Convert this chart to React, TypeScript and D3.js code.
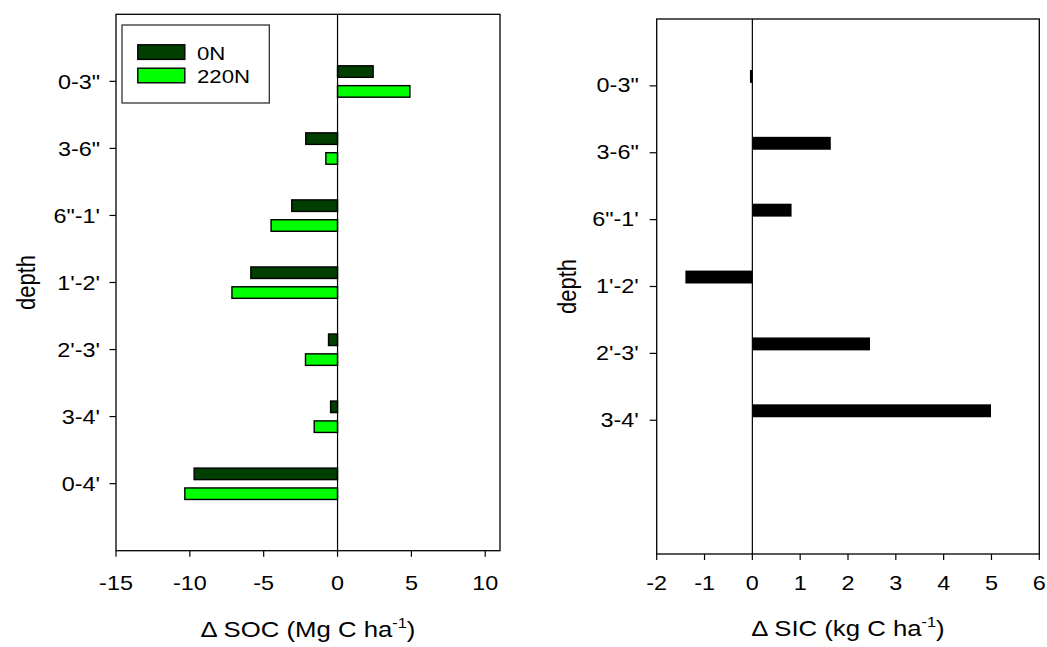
import React from "react";
import * as d3 from "d3";

const depthsSOC = ['0-3"', '3-6"', "6\"-1'", "1'-2'", "2'-3'", "3-4'", "0-4'"];
const soc0N = [2.41, -2.15, -3.1, -5.87, -0.61, -0.47, -9.71];
const soc220N = [4.9, -0.79, -4.5, -7.15, -2.17, -1.58, -10.34];
const socTicks = [-15, -10, -5, 0, 5, 10];

const depthsSIC = ['0-3"', '3-6"', "6\"-1'", "1'-2'", "2'-3'", "3-4'"];
const sicValues = [-0.05, 1.64, 0.82, -1.4, 2.46, 4.99];
const sicTicks = [-2, -1, 0, 1, 2, 3, 4, 5, 6];

const legendLabels = ["0N", "220N"];
const colors = ["#003F00", "#00FF00"];

const FONT = "'Liberation Sans', Arial, Helvetica, sans-serif";
const SX = 1.17;

function SText(props: {
  x: number;
  y: number;
  size: number;
  anchor?: string;
  rotate?: number;
  children: React.ReactNode;
}) {
  const { x, y, size, anchor = "start", rotate = 0, children } = props;
  return (
    <text
      transform={`translate(${x},${y}) scale(${SX},1)${rotate ? ` rotate(${rotate})` : ""}`}
      fontSize={size}
      fontFamily={FONT}
      textAnchor={anchor}
      fill="#000"
    >
      {children}
    </text>
  );
}

function Title(props: { x: number; y: number; name: string; unit: string }) {
  const { x, y, name, unit } = props;
  return (
    <SText x={x} y={y} size={22} anchor="middle">
      {`Δ ${name} (${unit} ha`}
      <tspan fontSize={14} dy={-9}>-1</tspan>
      <tspan dy={9}>)</tspan>
    </SText>
  );
}

export default function App() {
  // Left panel
  const L = { x0: 116, x1: 500, y0: 14.3, y1: 550.7 };
  const xL = d3.scaleLinear().domain([-15, 11]).range([L.x0, L.x1]);
  const yL = d3.scaleLinear().domain([0, 8]).range([L.y0, L.y1]);

  // Right panel
  const R = { x0: 656.7, x1: 1039.3, y0: 19, y1: 554 };
  const xR = d3.scaleLinear().domain([-2, 6]).range([R.x0, R.x1]);
  const yR = d3.scaleLinear().domain([0, 8]).range([R.y0, R.y1]);

  const bh = 0.172; // bar height in category units (left)
  const off0 = -0.232;
  const off1 = 0.064;

  return (
    <svg
      width={1047}
      height={647}
      style={{ position: "absolute", left: 0, top: 0, background: "#fff" }}
    >
      <rect x={0} y={0} width={1047} height={647} fill="#fff" />

      {/* ===== Left panel ===== */}
      <g>
        {/* bars */}
        {depthsSOC.map((d, i) => {
          const c = yL(i + 1);
          const v0 = soc0N[i];
          const v1 = soc220N[i];
          const h = yL(bh) - yL(0);
          return (
            <g key={d}>
              <rect
                x={Math.min(xL(0), xL(v0))}
                y={yL(i + 1 + off0)}
                width={Math.abs(xL(v0) - xL(0))}
                height={h}
                fill={colors[0]}
                stroke="#000"
                strokeWidth={1.4}
              />
              <rect
                x={Math.min(xL(0), xL(v1))}
                y={yL(i + 1 + off1)}
                width={Math.abs(xL(v1) - xL(0))}
                height={h}
                fill={colors[1]}
                stroke="#000"
                strokeWidth={1.4}
              />
              {/* y tick */}
              <line x1={L.x0 - 6.5} x2={L.x0} y1={c} y2={c} stroke="#000" strokeWidth={1.2} />
              <SText x={L.x0 - 16} y={c + 7.5} size={20} anchor="end">
                {d}
              </SText>
            </g>
          );
        })}
        {/* zero line */}
        <line x1={xL(0)} x2={xL(0)} y1={L.y0} y2={L.y1} stroke="#000" strokeWidth={1.2} />
        {/* frame */}
        <rect
          x={L.x0}
          y={L.y0}
          width={L.x1 - L.x0}
          height={L.y1 - L.y0}
          fill="none"
          stroke="#000"
          strokeWidth={1.3}
        />
        {/* x ticks */}
        {socTicks.map((t) => (
          <g key={t}>
            <line x1={xL(t)} x2={xL(t)} y1={L.y1} y2={L.y1 + 6} stroke="#000" strokeWidth={1.2} />
            <SText x={xL(t)} y={589.5} size={20} anchor="middle">
              {String(t)}
            </SText>
          </g>
        ))}
        {/* legend */}
        <rect x={122} y={25} width={147.3} height={78} fill="#fff" stroke="#222" strokeWidth={1.2} />
        {legendLabels.map((lab, i) => (
          <g key={lab}>
            <rect
              x={137.8}
              y={i === 0 ? 44.8 : 68.2}
              width={47}
              height={14.6}
              fill={colors[i]}
              stroke="#000"
              strokeWidth={1.4}
            />
            <SText x={197} y={i === 0 ? 59.5 : 83} size={19}>
              {lab}
            </SText>
          </g>
        ))}
        {/* axis titles */}
        <Title x={(L.x0 + L.x1) / 2} y={637} name="SOC" unit="Mg C" />
        <SText x={L.x0 - 81} y={(L.y0 + L.y1) / 2} size={22} anchor="middle" rotate={-90}>
          depth
        </SText>
      </g>

      {/* ===== Right panel ===== */}
      <g>
        {depthsSIC.map((d, i) => {
          const c = yR(i + 1);
          const v = sicValues[i];
          return (
            <g key={d}>
              <rect
                x={Math.min(xR(0), xR(v))}
                y={yR(i + 1 - 0.238)}
                width={Math.abs(xR(v) - xR(0))}
                height={yR(0.193) - yR(0)}
                fill="#000"
              />
              <line x1={R.x0 - 7} x2={R.x0} y1={c} y2={c} stroke="#000" strokeWidth={1.2} />
              <SText x={R.x0 - 18} y={c + 6.5} size={20} anchor="end">
                {d}
              </SText>
            </g>
          );
        })}
        <line x1={xR(0)} x2={xR(0)} y1={R.y0} y2={R.y1} stroke="#000" strokeWidth={1.2} />
        <rect
          x={R.x0}
          y={R.y0}
          width={R.x1 - R.x0}
          height={R.y1 - R.y0}
          fill="none"
          stroke="#000"
          strokeWidth={1.3}
        />
        {sicTicks.map((t) => (
          <g key={t}>
            <line x1={xR(t)} x2={xR(t)} y1={R.y1} y2={R.y1 + 6} stroke="#000" strokeWidth={1.2} />
            <SText x={xR(t)} y={589.5} size={20} anchor="middle">
              {String(t)}
            </SText>
          </g>
        ))}
        <Title x={(R.x0 + R.x1) / 2} y={636} name="SIC" unit="kg C" />
        <SText x={R.x0 - 81} y={(R.y0 + R.y1) / 2} size={22} anchor="middle" rotate={-90}>
          depth
        </SText>
      </g>
    </svg>
  );
}
